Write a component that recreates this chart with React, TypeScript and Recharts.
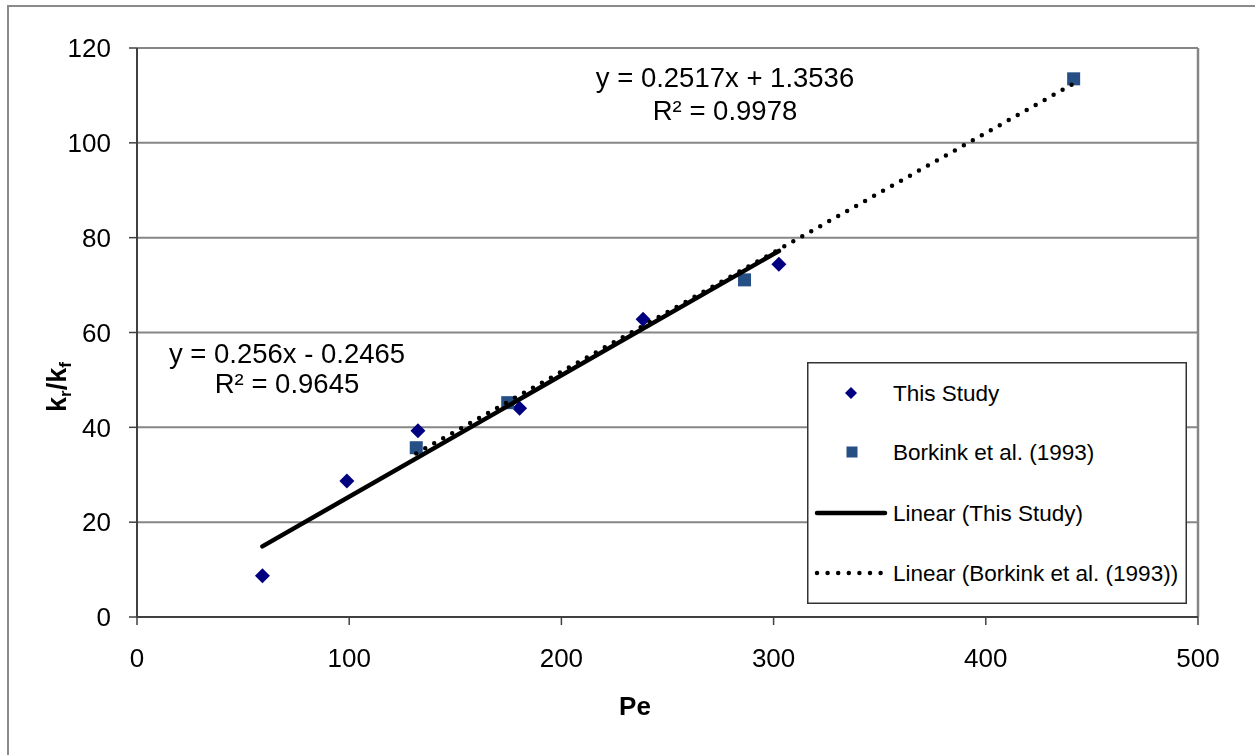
import React from 'react';
import { ScatterChart, Scatter, XAxis, YAxis, CartesianGrid, ReferenceLine, Legend, Customized } from 'recharts';

// Data
const thisStudyPe = [59.1, 98.9, 132.4, 180.3, 238.5, 302.5];
const thisStudyK = [8.7, 28.7, 39.3, 44.0, 62.8, 74.4];
const borkinkPe = [131.6, 174.7, 286.3, 441.4];
const borkinkK = [35.7, 45.2, 71.1, 113.5];
const trendThisPe = [59.1, 302.5];
const trendThisK = [14.9, 77.2];
const trendBorkPe = [131.6, 441.4];
const trendBorkK = [34.5, 112.5];
const xTicks = [0, 100, 200, 300, 400, 500];
const yTicks = [0, 20, 40, 60, 80, 100, 120];
const legendLabels = ['This Study', 'Borkink et al. (1993)', 'Linear (This Study)', 'Linear (Borkink et al. (1993))'];
const eqThis = ['y = 0.256x - 0.2465', 'R\u00b2 = 0.9645'];
const eqBork = ['y = 0.2517x + 1.3536', 'R\u00b2 = 0.9978'];

const zip = (xs: number[], ys: number[]) => xs.map((x, i) => ({ x, y: ys[i] }));
const thisStudy = zip(thisStudyPe, thisStudyK);
const borkink = zip(borkinkPe, borkinkK);
const trendThis = zip(trendThisPe, trendThisK);
const trendBork = zip(trendBorkPe, trendBorkK);

const FONT = '"Liberation Sans", Arial, Helvetica, sans-serif';
const DIAMOND = '#000080';
const SQUARE = '#264F86';

const Diamond = (p: any) => (
  <polygon
    points={`${p.cx},${p.cy - 7.5} ${p.cx + 7.5},${p.cy} ${p.cx},${p.cy + 7.5} ${p.cx - 7.5},${p.cy}`}
    fill={DIAMOND}
  />
);
const Square = (p: any) => <rect x={p.cx - 6.5} y={p.cy - 6.5} width={13} height={13} fill={SQUARE} />;
const NoShape = () => <g />;

const renderLegend = () => {
  const rows = [31, 90, 151, 211];
  return (
    <svg width={380} height={242} style={{ display: 'block', fontFamily: FONT }}>
      <rect x={0.75} y={0.75} width={378.5} height={240.5} fill="#fff" stroke="#333" strokeWidth={1.5} />
      <polygon points={`44,${rows[0] - 6} 50,${rows[0]} 44,${rows[0] + 6} 38,${rows[0]}`} fill={DIAMOND} />
      <rect x={39.5} y={rows[1] - 5.5} width={11} height={11} fill={SQUARE} />
      <line x1={10} y1={rows[2]} x2={78} y2={rows[2]} stroke="#000" strokeWidth={4.5} strokeLinecap="round" />
      <line x1={10} y1={rows[3]} x2={78} y2={rows[3]} stroke="#000" strokeWidth={4.5} strokeLinecap="round" strokeDasharray="0 10.6" />
      {legendLabels.map((l, i) => (
        <text key={l} x={86} y={rows[i] + 8} fontSize={22.5} fill="#000">
          {l}
        </text>
      ))}
    </svg>
  );
};

const Annotations = () => (
  <g style={{ fontFamily: FONT }}>
    <text x={287} y={363} textAnchor="middle" fontSize={27.5} fill="#000">{eqThis[0]}</text>
    <text x={287} y={393} textAnchor="middle" fontSize={27.5} fill="#000">{eqThis[1]}</text>
    <text x={725} y={87} textAnchor="middle" fontSize={27.5} fill="#000">{eqBork[0]}</text>
    <text x={725} y={120} textAnchor="middle" fontSize={27.5} fill="#000">{eqBork[1]}</text>
    <text x={635} y={715} textAnchor="middle" fontSize={26} fontWeight="bold" fill="#000">Pe</text>
    <text x={66} y={387} transform="rotate(-90, 66, 387)" textAnchor="middle" fontSize={27} fontWeight="bold" fill="#000">
      <tspan>k</tspan>
      <tspan dy={5} fontSize={17}>r</tspan>
      <tspan dy={-5}>/k</tspan>
      <tspan dy={5} fontSize={17}>f</tspan>
    </text>
  </g>
);

export default function App() {
  return (
    <>
      <div
        style={{
          position: 'fixed',
          left: 7,
          top: 5,
          width: 1248,
          height: 750,
          borderLeft: '2px solid #8a8a8a',
          borderTop: '2px solid #8a8a8a',
        }}
      />
      <div style={{ position: 'fixed', left: 0, top: 0, width: 1255, height: 755 }}>
        <ScatterChart width={1255} height={755} margin={{ top: 48, right: 57, left: 37, bottom: 78 }}>
          <CartesianGrid vertical={false} stroke="#868686" strokeWidth={2} />
          <XAxis
            type="number"
            dataKey="x"
            domain={[0, 500]}
            ticks={xTicks}
            height={60}
            tickSize={8}
            tickMargin={24}
            axisLine={{ stroke: '#404040', strokeWidth: 2 }}
            tickLine={{ stroke: '#404040', strokeWidth: 1.5 }}
            tick={{ fill: '#000', fontSize: 26, fontFamily: FONT }}
          />
          <YAxis
            type="number"
            dataKey="y"
            domain={[0, 120]}
            ticks={yTicks}
            width={100}
            tickSize={8}
            tickMargin={18}
            axisLine={{ stroke: '#404040', strokeWidth: 2 }}
            tickLine={{ stroke: '#404040', strokeWidth: 1.5 }}
            tick={{ fill: '#000', fontSize: 26, fontFamily: FONT }}
          />
          <ReferenceLine x={500} stroke="#868686" strokeWidth={2.5} />
          <Scatter name="This Study" data={thisStudy} shape={Diamond} isAnimationActive={false} />
          <Scatter name="Borkink et al. (1993)" data={borkink} shape={Square} isAnimationActive={false} />
          <Scatter
            name="Linear (This Study)"
            data={trendThis}
            shape={NoShape}
            line={{ stroke: '#000', strokeWidth: 4.5, strokeLinecap: 'round' }}
            lineType="joint"
            isAnimationActive={false}
          />
          <Scatter
            name="Linear (Borkink et al. (1993))"
            data={trendBork}
            shape={NoShape}
            line={{ stroke: '#000', strokeWidth: 4.5, strokeLinecap: 'round', strokeDasharray: '0 10.3' }}
            lineType="joint"
            isAnimationActive={false}
          />
          <Customized component={Annotations} />
          <Legend
            layout="vertical"
            align="center"
            verticalAlign="middle"
            content={renderLegend}
            wrapperStyle={{ position: 'absolute', left: 807, top: 362, width: 380, height: 242 }}
          />
        </ScatterChart>
      </div>
    </>
  );
}
